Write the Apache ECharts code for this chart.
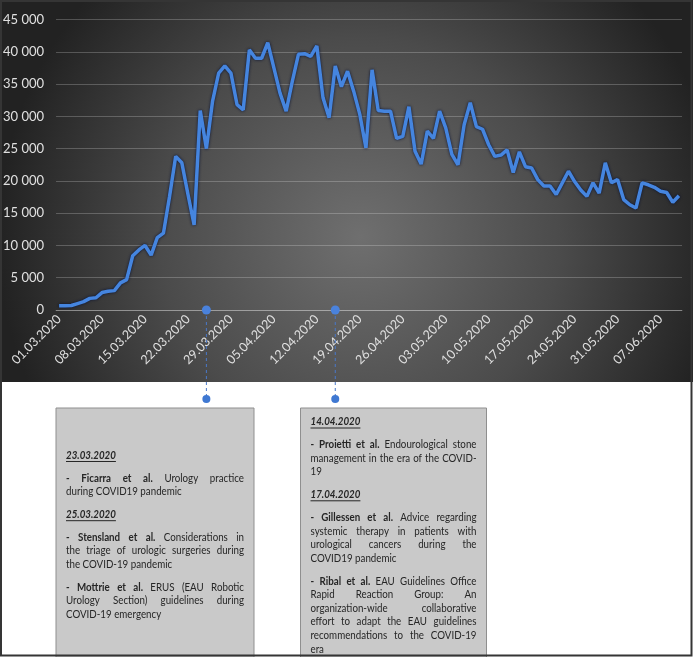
<!DOCTYPE html>
<html>
<head>
<meta charset="utf-8">
<script src="https://cdn.jsdelivr.net/npm/echarts@6/dist/echarts.min.js"></script>
<style>
    html, body { margin: 0; padding: 0; background: #fff; }
    #chart { width: 693px; height: 657px; }
</style>
</head>
<body>
<div id="chart"></div>
<script>
// Daily values, 01.03.2020 .. 10.06.2020
var firstDay = new Date(2020, 2, 1);
var dayCount = 102;
var cases = [
    650, 660, 700, 1000, 1300, 1800, 1900, 2700, 2900, 3000,
    4200, 4700, 8400, 9300, 10000, 8500, 11200, 11900, 17600, 23800,
    22800, 17900, 13200, 30900, 25000, 32300, 36700, 37800, 36700, 31800,
    31000, 40300, 39000, 39000, 41400, 37500, 33600, 30800, 35400, 39600,
    39700, 39300, 40900, 32900, 29800, 37800, 34600, 37000, 33900, 30300,
    25100, 37200, 30900, 30800, 30800, 26600, 26900, 31500, 24600, 22600,
    27700, 26600, 30800, 28200, 24100, 22500, 28700, 32100, 28400, 28000,
    25600, 23800, 24000, 24800, 21300, 24500, 22200, 22000, 20200, 19200,
    19200, 17900, 19700, 21500, 19900, 18600, 17600, 19700, 18100, 22800,
    19700, 20200, 17100, 16300, 15800, 19700, 19400, 19000, 18400, 18200,
    16700, 17700
];
var yMax = 45000;
var yStep = 5000;
var labelEvery = 7;

// Annotated dates (dots on the axis) and their boxes
var markDates = ['25.03.2020', '15.04.2020'];
var box1Text = [
    { date: '23.03.2020' },
    { lines: ['**- Ficarra et al.** Urology practice', 'during COVID19 pandemic'] },
    { date: '25.03.2020' },
    { lines: ['**- Stensland et al.** Considerations in', 'the triage of urologic surgeries during', 'the COVID-19 pandemic'] },
    { lines: ['**- Mottrie et al.** ERUS (EAU Robotic', 'Urology Section) guidelines during', 'COVID-19 emergency'] }
];
var box2Text = [
    { date: '14.04.2020' },
    { lines: ['**- Proietti et al.** Endourological stone', 'management in the era of the COVID-', '19'] },
    { date: '17.04.2020' },
    { lines: ['**- Gillessen et al.** Advice regarding', 'systemic therapy in patients with', 'urological cancers during the', 'COVID19 pandemic'] },
    { lines: ['**- Ribal et al.** EAU Guidelines Office', 'Rapid Reaction Group: An', 'organization-wide collaborative', 'effort to adapt the EAU guidelines', 'recommendations to the COVID-19', 'era'] }
];

function pad2(n) { return (n < 10 ? '0' : '') + n; }
var dates = [];
for (var i = 0; i < dayCount; i++) {
    var d = new Date(firstDay.getFullYear(), firstDay.getMonth(), firstDay.getDate() + i);
    dates.push(pad2(d.getDate()) + '.' + pad2(d.getMonth() + 1) + '.' + d.getFullYear());
}

var fontFamily = 'Lato, "Open Sans", sans-serif';
var chart = echarts.init(document.getElementById('chart'));

chart.setOption({
    animation: false,
    backgroundColor: '#ffffff',
    textStyle: { fontFamily: fontFamily },
    grid: { left: 51, right: 11, top: 19.5, bottom: 347 },
    xAxis: {
        type: 'category',
        data: dates,
        boundaryGap: true,
        axisLine: { lineStyle: { color: 'rgba(255,255,255,0.28)', width: 1 } },
        axisTick: { interval: labelEvery - 1, length: 4, lineStyle: { color: 'rgba(255,255,255,0.28)' } },
        axisLabel: {
            interval: labelEvery - 1,
            rotate: 45,
            margin: 7,
            color: '#e0e0e0',
            fontSize: 12.5,
            fontFamily: fontFamily
        },
        splitLine: { show: false }
    },
    yAxis: {
        type: 'value',
        min: 0,
        max: yMax,
        interval: yStep,
        axisLine: { show: false },
        axisTick: { show: false },
        axisLabel: {
            margin: 12,
            color: '#e0e0e0',
            fontSize: 13,
            fontFamily: fontFamily,
            formatter: function (v) {
                return String(v).replace(/\B(?=(\d{3})+(?!\d))/g, ' ');
            }
        },
        splitLine: { lineStyle: { color: 'rgba(255,255,255,0.22)', width: 1 } }
    },
    series: [{
        type: 'line',
        data: cases,
        showSymbol: false,
        lineStyle: {
            color: '#4585df',
            width: 3.5,
            shadowColor: 'rgba(5,15,50,0.95)',
            shadowBlur: 3
        },
        z: 5
    }]
});

// ---- overlay: background, connectors, text boxes ----
var measureCtx = document.createElement('canvas').getContext('2d');
function textWidth(str, font) {
    measureCtx.font = font;
    return measureCtx.measureText(str).width;
}
function parseWords(line) {
    var words = [];
    line.split('**').forEach(function (part, i) {
        part.split(' ').forEach(function (w) {
            if (w) words.push({ w: w, bold: i % 2 === 1 });
        });
    });
    return words;
}
function fontFor(size, bold, italic) {
    return (italic ? 'italic ' : '') + (bold ? 'bold ' : '') + size + 'px ' + fontFamily;
}
function naturalWidth(words, size) {
    var sp = textWidth(' ', fontFor(size, false));
    var w = 0;
    words.forEach(function (wd, k) {
        w += textWidth(wd.w, fontFor(size, wd.bold)) + (k ? sp : 0);
    });
    return w;
}

var boxes = [
    { x: 56, y: 408, w: 198, firstY: 455, paras: box1Text },
    { x: 300.5, y: 408, w: 186, firstY: 421.5, paras: box2Text }
];
var boxPad = 10;
var lineStep = 13.6;
var paraStep = 22.8;
var fontSize = 12;

// horizontal squeeze so every justified line fits (narrow Calibri-like look)
var squeeze = 1;
boxes.forEach(function (b) {
    var avail = b.w - 2 * boxPad;
    b.paras.forEach(function (p) {
        (p.lines || []).forEach(function (ln, li) {
            if (li === p.lines.length - 1) return;
            var nw = naturalWidth(parseWords(ln), fontSize);
            squeeze = Math.min(squeeze, (avail - 3) / nw);
        });
    });
});

var els = [];
els.push({
    type: 'rect', z: -10, silent: true,
    shape: { x: 0, y: 0, width: 693, height: 382 },
    style: {
        fill: {
            type: 'radial', x: 0.52, y: 0.62, r: 0.95,
            colorStops: [
                { offset: 0, color: '#6f6f6f' },
                { offset: 0.55, color: '#4b4b4b' },
                { offset: 1, color: '#222222' }
            ]
        }
    }
});

function addWord(str, x, y, font) {
    els.push({
        type: 'text', z: 60, x: x, y: y, scaleX: squeeze,
        style: { text: str, x: 0, y: 0, font: font, fill: '#262626', textVerticalAlign: 'middle', verticalAlign: 'middle' }
    });
}

boxes.forEach(function (b) {
    els.push({
        type: 'rect', z: 50,
        shape: { x: b.x, y: b.y, width: b.w, height: 270 },
        style: { fill: '#c9c9c9', stroke: '#8f8f8f', lineWidth: 1 }
    });
    var left = b.x + boxPad;
    var avail = b.w - 2 * boxPad;
    var y = b.firstY;
    b.paras.forEach(function (p) {
        if (p.date) {
            var f = fontFor(fontSize, true, true);
            addWord(p.date, left, y, f);
            els.push({
                type: 'line', z: 60,
                shape: { x1: left, y1: y + 6.5, x2: left + squeeze * textWidth(p.date, f), y2: y + 6.5 },
                style: { stroke: '#262626', lineWidth: 1 }
            });
            y += paraStep;
            return;
        }
        p.lines.forEach(function (ln, li) {
            var words = parseWords(ln);
            var last = li === p.lines.length - 1;
            var gap = squeeze * textWidth(' ', fontFor(fontSize, false));
            if (!last && words.length > 1) {
                var sum = 0;
                words.forEach(function (wd) { sum += squeeze * textWidth(wd.w, fontFor(fontSize, wd.bold)); });
                gap = (avail - sum) / (words.length - 1);
            }
            var x = left;
            words.forEach(function (wd) {
                var f = fontFor(fontSize, wd.bold);
                addWord(wd.w, x, y, f);
                x += squeeze * textWidth(wd.w, f) + gap;
            });
            y += last ? paraStep : lineStep;
        });
    });
});

// dashed connectors from the axis to the boxes
markDates.forEach(function (md) {
    var p = chart.convertToPixel({ xAxisIndex: 0, yAxisIndex: 0 }, [md, 0]);
    var px = p[0], py = p[1];
    els.push({
        type: 'line', z: 40,
        shape: { x1: px, y1: py, x2: px, y2: 399 },
        style: { stroke: '#4a78c8', lineWidth: 1, lineDash: [3, 3] }
    });
    els.push({ type: 'circle', z: 70, shape: { cx: px, cy: py, r: 4.5 }, style: { fill: '#4a82dc' } });
    els.push({ type: 'circle', z: 70, shape: { cx: px, cy: 399, r: 4 }, style: { fill: '#3f78d2' } });
});

// outer frame
els.push({
    type: 'rect', z: 200, silent: true,
    shape: { x: 1, y: 1, width: 690.5, height: 654.5 },
    style: { fill: null, stroke: '#353535', lineWidth: 2 }
});

chart.setOption({ graphic: { elements: els } });
</script>
</body>
</html>
